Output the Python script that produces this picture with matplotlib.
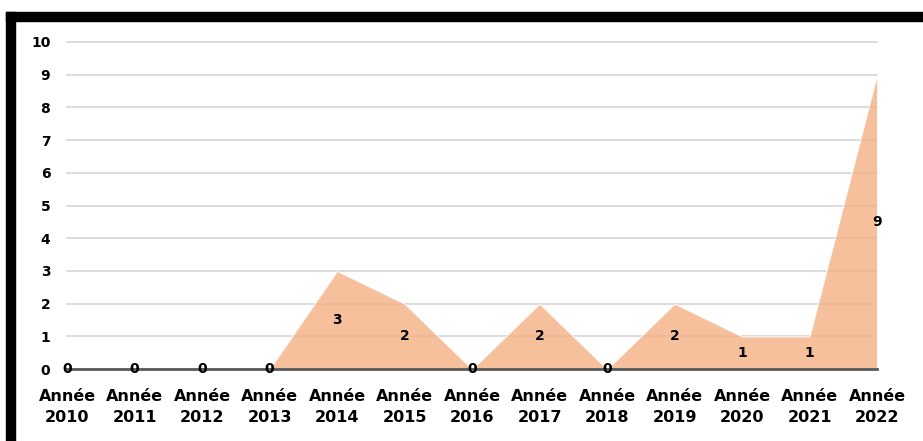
import matplotlib.pyplot as plt
from matplotlib.patches import Rectangle

years = ['2010', '2011', '2012', '2013', '2014', '2015', '2016',
         '2017', '2018', '2019', '2020', '2021', '2022']
counts = [0, 0, 0, 0, 3, 2, 0, 2, 0, 2, 1, 1, 9]
tick_labels = ['Année\n' + y for y in years]

plt.rcParams['font.family'] = 'DejaVu Sans'

fig = plt.figure(figsize=(9.23, 4.41), dpi=100)
ax = fig.add_axes([0.0726, 0.163, 0.8776, 0.742])

x = list(range(len(years)))
ax.fill_between(x, counts, 0, facecolor='#F4B183', alpha=0.8,
                edgecolor='white', linewidth=0.8, zorder=2)

# valeurs au milieu de l'aire
for xi, v in zip(x, counts):
    ax.text(xi, v / 2, str(v), ha='center', va='center',
            fontsize=10, fontweight='bold', color='black', zorder=4)

ax.set_xlim(0, len(years) - 1)
ax.set_ylim(0, 10)
ax.set_yticks(range(0, 11))
ax.set_xticks(x)
ax.set_xticklabels(tick_labels, fontsize=11.5, fontweight='bold',
                   linespacing=1.5)
for lab in ax.get_yticklabels():
    lab.set_fontweight('bold')
    lab.set_fontsize(10)

ax.grid(axis='y', color='#d9d9d9', linewidth=1.3, zorder=1)
for gl in ax.get_ygridlines():
    gl.set_clip_on(False)
ax.set_axisbelow(True)
ax.tick_params(length=0, pad=12)
ax.tick_params(axis='x', pad=14)
for s in ['top', 'right', 'left']:
    ax.spines[s].set_visible(False)
ax.spines['bottom'].set_color('#595959')
ax.spines['bottom'].set_linewidth(2)
ax.spines['bottom'].set_zorder(3)

# cadre noir (haut et gauche)
W, H = 923, 441
fig.add_artist(Rectangle((6 / W, 1 - 21 / H), 1 - 6 / W, 9 / H,
                         transform=fig.transFigure, color='black'))
fig.add_artist(Rectangle((6 / W, 0), 9 / W, 1 - 12 / H,
                         transform=fig.transFigure, color='black'))

fig.savefig('out.png', dpi=100)
